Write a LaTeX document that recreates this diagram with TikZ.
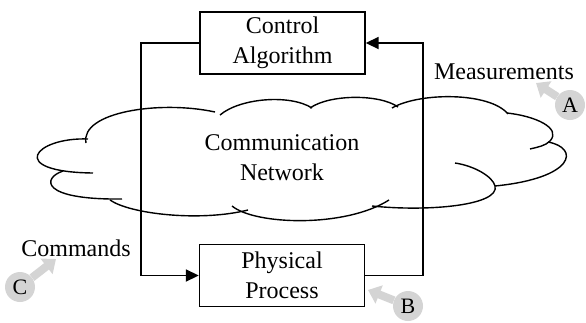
\documentclass[tikz,border=0pt]{standalone}
\usepackage{fontspec}
\setmainfont{Liberation Serif}
\usetikzlibrary{arrows.meta}
\definecolor{tagfill}{RGB}{212,212,212}
\begin{document}
\begin{tikzpicture}[x=1pt,y=-1pt,
  txt/.style={font=\fontsize{24}{30}\selectfont, align=center, inner sep=0pt},
  block/.style={txt, draw, line width=1.4pt, minimum width=165pt, minimum height=62pt},
  link/.style={line width=1.8pt, -{Triangle[length=13pt,width=12pt]}},
  puff/.style={line width=1.4pt},
  tag/.style={circle, fill=tagfill, minimum size=30pt, inner sep=0pt, font=\fontsize{22}{22}\selectfont},
  pointer/.style={line width=8pt, draw=tagfill, -{Triangle[length=12pt,width=19pt]}}
]
\useasboundingbox (0,0) rectangle (586,322);

% cloud: overlapping bumps, each drawn as its own arc
\begin{scope}[puff]
  \draw (88,139) .. controls (35,137) and (5,172) .. (93,173);                 % leftmost
  \draw (63,171) .. controls (42,178) and (40,200) .. (122,199);               % lower left
  \draw (110,200) .. controls (130,214) and (200,222) .. (248,210);            % bottom left
  \draw (232,206) .. controls (255,225) and (345,228) .. (389,200);            % bottom middle
  \draw (372,206) .. controls (430,212) and (500,205) .. (495,186)
                  .. controls (493,177) and (475,166) .. (455,163);            % bottom right
  \draw (548,142) .. controls (580,148) and (575,178) .. (495,186);            % rightmost
  \draw (507,113) .. controls (535,116) and (562,128) .. (550,141)
                  .. controls (545,146) and (538,147) .. (530,149);            % right upper
  \draw (392,108) .. controls (420,92) and (490,92) .. (508,114);              % top right
  \draw (310,108) .. controls (330,94) and (380,94) .. (398,107);              % top middle
  \draw (220,115) .. controls (240,98) and (290,94) .. (312,108);              % top middle left
  \draw (86,143) .. controls (80,112) and (160,100) .. (215,112);              % top left
\end{scope}

\node[txt] (net) at (282,157.5) {Communication\\Network};

% controller and plant
\node[block] (ctrl) at (282.5,43) {Control\\Algorithm};
\node[block] (phys) at (282,275.5) {Physical\\Process};

% feedback loop
\coordinate (leftrail) at (141,0);
\coordinate (rightrail) at (423,0);
\draw[link] (ctrl.west) -- (ctrl.west -| leftrail) -- (phys.west -| leftrail) -- (phys.west);
\draw[link] (phys.east) -- (phys.east -| rightrail) -- (ctrl.east -| rightrail) -- (ctrl.east);

% signal labels
\node[txt] (cmd) at (76,248) {Commands};
\node[txt] (meas) at (504,72) {Measurements};

% lettered markers
\node[tag] (A) at (570,105) {A};
\node[tag] (B) at (408,306) {B};
\node[tag] (C) at (20,287) {C};
\coordinate (Atip) at (536,83);
\coordinate (Btip) at (368,290);
\coordinate (Ctip) at (56,259);
\draw[pointer] (A) -- (Atip);
\draw[pointer] (B) -- (Btip);
\draw[pointer] (C) -- (Ctip);
\end{tikzpicture}
\end{document}
